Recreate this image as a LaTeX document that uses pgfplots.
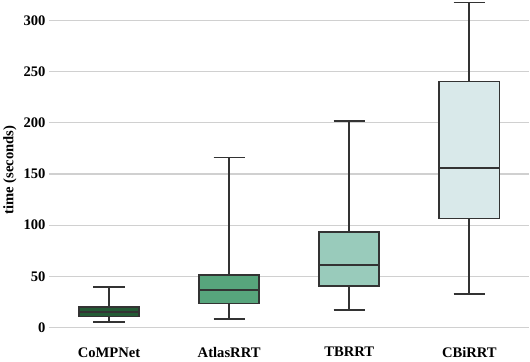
\documentclass[border=0pt]{standalone}
\usepackage{pgfplots}
\pgfplotsset{compat=1.18}
\usepgfplotslibrary{statistics}
\usepackage{fontspec}
\setmainfont{Liberation Serif}

\definecolor{edge}{HTML}{333333}
\definecolor{gridc}{HTML}{D0D0D0}
\definecolor{cA}{HTML}{235B35}
\definecolor{cB}{HTML}{57A57C}
\definecolor{cC}{HTML}{99CBBB}
\definecolor{cD}{HTML}{D9E9EA}

\begin{document}
\begin{tikzpicture}
\begin{axis}[
    width=475bp, height=336bp,
    scale only axis,
    xmin=-0.5, xmax=3.5,
    ymin=-12, ymax=320,
    axis line style={draw=none},
    xtick={0,1,2,3},
    xticklabels={CoMPNet,AtlasRRT,TBRRT,CBiRRT},
    ytick={0,50,100,150,200,250,300},
    tick style={draw=none},
    ymajorgrids=true,
    grid style={gridc, line width=1.2bp},
    ylabel={time (seconds)},
    ticklabel style={font=\fontsize{14.5}{17}\selectfont\bfseries},
    label style={font=\fontsize{14.5}{17}\selectfont\bfseries},
    xticklabel style={yshift=-4bp},
    /pgf/number format/assume math mode=true,
    boxplot/draw direction=y,
    boxplot/box extend=0.5,
    boxplot/whisker extend=0.26,
    boxplot/every box/.style={draw=edge, line width=1.7bp, line join=miter},
    boxplot/every whisker/.style={draw=edge, line width=1.7bp},
    boxplot/every median/.style={draw=edge, line width=1.7bp},
]
\addplot[draw=edge, line width=1.7bp, fill=cA, boxplot prepared={
    draw position=0,
    lower whisker=5.4, lower quartile=10.9, median=15,
    upper quartile=20.3, upper whisker=39.4}] coordinates {};
\addplot[draw=edge, line width=1.7bp, fill=cB, boxplot prepared={
    draw position=1,
    lower whisker=8, lower quartile=23.5, median=36.5,
    upper quartile=51.4, upper whisker=166}] coordinates {};
\addplot[draw=edge, line width=1.7bp, fill=cC, boxplot prepared={
    draw position=2,
    lower whisker=17.3, lower quartile=40.4, median=61.2,
    upper quartile=93, upper whisker=201.7}] coordinates {};
\addplot[draw=edge, line width=1.7bp, fill=cD, boxplot prepared={
    draw position=3,
    lower whisker=33, lower quartile=106.6, median=156,
    upper quartile=240.3, upper whisker=317.6}] coordinates {};
\end{axis}
\end{tikzpicture}
\end{document}
